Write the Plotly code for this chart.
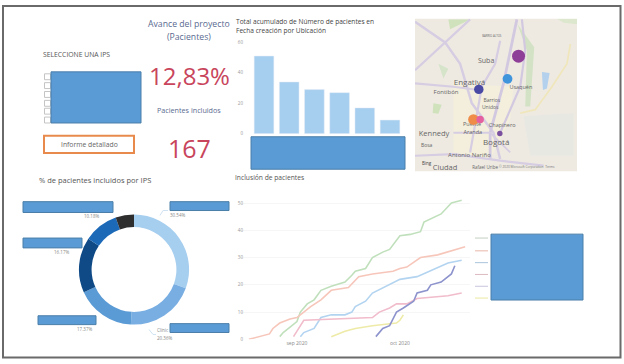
import plotly.graph_objects as go

W, H = 624, 364
FONT = "Open Sans"

# ---------- data ----------
ubicacion = ["IPS 1", "IPS 2", "IPS 3", "IPS 4", "IPS 5", "IPS 6"]
pacientes = [51, 34, 29, 27, 17, 9]
pie_colors = ["#a6ceef", "#78aee2", "#5b9bd5", "#0f4a86", "#1c69b8", "#2e2e2e"]
pct_labels = ["30.54%", "20.36%", "17.37%", "16.17%", "10.18%"]

bar_ticks = [0, 20, 40, 60]
line_ticks = [0, 10, 20, 30, 40, 50]

green_d = ["2020-08-27","2020-08-28","2020-08-30","2020-09-01","2020-09-02","2020-09-04","2020-09-06","2020-09-08","2020-09-11","2020-09-15","2020-09-17","2020-09-18","2020-09-21","2020-09-23","2020-09-26","2020-09-28","2020-10-01","2020-10-04","2020-10-07","2020-10-08","2020-10-13","2020-10-16","2020-10-19"]
green_v = [1,2.5,4.5,6.5,10,13,14.5,18,19.5,21,23.5,25,26,30,32,33,38,38.5,39.5,43,46,50,51]
salmon_d = ["2020-08-18","2020-08-21","2020-08-24","2020-08-25","2020-08-27","2020-08-30","2020-09-01","2020-09-03","2020-09-05","2020-09-08","2020-09-11","2020-09-16","2020-09-19","2020-09-23","2020-09-29","2020-10-01","2020-10-03","2020-10-07","2020-10-12","2020-10-20"]
salmon_v = [0,1,2,4,6,7.5,8,10,12,14.5,18,19,23,24,25,26,26.5,30,31,34]
blue_d = ["2020-09-02","2020-09-03","2020-09-06","2020-09-08","2020-09-11","2020-09-15","2020-09-17","2020-09-18","2020-09-21","2020-09-23","2020-10-01","2020-10-06","2020-10-15","2020-10-19"]
blue_v = [1,2.5,4,8,9,9,10,12,14,17,22,23,28,29]
pink_d = ["2020-08-31","2020-09-03","2020-09-23","2020-09-25","2020-09-28","2020-09-30","2020-10-03","2020-10-06","2020-10-15","2020-10-19"]
pink_v = [1,7,8,10,11.5,13,13,15,16,17]
yellow_d = ["2020-09-11","2020-09-15","2020-09-18","2020-09-23","2020-09-30","2020-10-01","2020-10-02"]
yellow_v = [1,3,4,5,6,7,9]
navy_d = ["2020-09-24","2020-09-26","2020-09-28","2020-09-30","2020-10-02","2020-10-05","2020-10-06","2020-10-09","2020-10-10","2020-10-13","2020-10-16","2020-10-17"]
navy_v = [1,4,5,10,11.5,14,17,18,20,21,24,27]
line_series = [
    (green_d, green_v, "#c0e0bc"), (salmon_d, salmon_v, "#f7c6ba"),
    (blue_d, blue_v, "#b3d4f0"), (pink_d, pink_v, "#f1bccb"),
    (yellow_d, yellow_v, "#eeeba8"), (navy_d, navy_v, "#8d93cc"),
]
legend_colors = ["#c3cfc3", "#e8b7a8", "#a9c4dc", "#ddb9c2", "#c6c4de", "#ebe89f"]

# map bubbles (map units, one per IPS, same order as pacientes)
bubble_x = [325, 190, 292, 206, 210, 269]
bubble_y = [147, 340, 216, 248, 340, 382]
bubble_c = ["#8e3f97", "#ef8c4a", "#3f94db", "#4a4aa5", "#e5609f", "#7a4fa0"]

map_labels = [
    ("Suba", 228, 161, 7), ("Engativá", 178, 229, 8), ("Fontibón", 108, 259, 6),
    ("Usaquén", 332, 244, 5.5), ("Barrios", 245, 283, 5), ("Unidos", 240, 304, 5),
    ("Puente", 186, 356, 5.5), ("Aranda", 188, 381, 5.5), ("Chapinero", 276, 359, 5.5),
    ("Kennedy", 72, 385, 7.5), ("Bosa", 50, 421, 5), ("Bogotá", 258, 410, 8),
    ("Antonio Nariño", 178, 449, 6), ("Ciudad", 105, 488, 7.5), ("Rafael Uribe", 225, 487, 4.5),
    ("BARRIO ALTOS", 245, 85, 2.8),
]
map_roads = [
    ([15,105,150,185,250,270], [42,105,170,290,380,460], "#d6cde2", 2.5),
    ([15,110,180], [190,100,35], "#d6cde2", 2.2),
    ([15,130,206], [230,240,250], "#d6cde2", 2.2),
    ([320,300,280,240,240], [35,130,230,380,460], "#d2c8e0", 2.8),
    ([335,345,330,270], [35,130,240,380], "#d2c8e0", 2.2),
    ([270,255,215,200,180], [100,170,240,330,440], "#d6cde2", 2.2),
    ([15,130,270,400], [450,445,465,480], "#d6cde2", 2.2),
    ([130,240,300], [380,380,440], "#d6cde2", 1.8),
    ([480,470,425,375,330], [110,170,240,310,320], "#f0e6bc", 1.8),
]
map_areas = [
    ([130,310,300,240,130,130], [230,240,340,460,440,340], "#f3efdc"),
    ([340,490,490,360], [330,320,450,450], "#e8e8e3"),
    ([115,180,120], [35,35,65], "#cfe2bc"),
    ([322,372,360,345,350], [50,120,300,300,130], "#d3e2c4"),
    ([85,115,100], [170,185,215], "#d6e4ca"),
    ([70,95,85,68], [290,295,322,320], "#cfe2bc"),
    ([395,418,410,398], [195,198,245,250], "#b3d0ec"),
    ([440,500,500,460], [33,33,50,45], "#dde7ce"),
]


def px(x):
    return x / W


def py(y):
    return 1 - y / H


def dom(a, b, size, flip=False):
    return [1 - b / size, 1 - a / size] if flip else [a / size, b / size]


fig = go.Figure()

# ---------- bar chart ----------
fig.add_trace(go.Bar(x=ubicacion, y=pacientes, marker_color="#a6ceef", width=0.78,
                     xaxis="x", yaxis="y", hoverinfo="skip"))
# ---------- line chart ----------
for d, v, c in line_series:
    fig.add_trace(go.Scatter(x=d, y=v, mode="lines", line=dict(color=c, width=1.6),
                             xaxis="x2", yaxis="y2", hoverinfo="skip"))
# ---------- donut ----------
fig.add_trace(go.Pie(values=pacientes, labels=ubicacion, hole=0.77, sort=False, direction="clockwise",
                     rotation=0, textinfo="none", hoverinfo="skip",
                     marker=dict(colors=pie_colors, line=dict(width=0)),
                     domain=dict(x=dom(78, 190, W), y=dom(215, 327, H, True))))
# ---------- map ----------
for xs, ys, c in map_areas:
    fig.add_trace(go.Scatter(x=xs, y=ys, mode="lines", fill="toself", fillcolor=c, line=dict(width=0),
                             xaxis="x3", yaxis="y3", hoverinfo="skip"))
for xs, ys, c, w in map_roads:
    fig.add_trace(go.Scatter(x=xs, y=ys, mode="lines", line=dict(color=c, width=w),
                             xaxis="x3", yaxis="y3", hoverinfo="skip"))
fig.add_trace(go.Scatter(x=[m[1] for m in map_labels], y=[m[2] for m in map_labels],
                         text=[m[0] for m in map_labels], mode="text",
                         textfont=dict(family=FONT, size=[m[3] for m in map_labels], color="#666666"),
                         xaxis="x3", yaxis="y3", hoverinfo="skip"))
fig.add_trace(go.Scatter(x=bubble_x, y=bubble_y, mode="markers",
                         marker=dict(size=pacientes, sizemode="area", sizeref=51 / 2 / 6.5 ** 2,
                                     color=bubble_c, opacity=1, line=dict(width=0)),
                         xaxis="x3", yaxis="y3", hoverinfo="skip"))

shapes = []


def rect(x0, y0, x1, y1, fill="#5b9bd5", line="#4a7ea8", lw=1):
    shapes.append(dict(type="rect", xref="paper", yref="paper", x0=px(x0), x1=px(x1), y0=py(y0), y1=py(y1),
                       fillcolor=fill, line=dict(color=line, width=lw), layer="above"))


def seg(x0, y0, x1, y1, color, lw=1):
    shapes.append(dict(type="line", xref="paper", yref="paper", x0=px(x0), x1=px(x1), y0=py(y0), y1=py(y1),
                       line=dict(color=color, width=lw), layer="above"))


# outer frame
rect(3, 3, 620.5, 360.5, fill="rgba(0,0,0,0)", line="#6a6a6a", lw=2)
# slicer
for y in [75, 84, 93, 102, 110, 119]:
    rect(44.5, y - 3, 50.5, y + 3, fill="#ffffff", line="#c4c4c4", lw=1)
rect(51, 70, 141, 122)
# button
rect(44, 135, 134, 152.5, fill="#ffffff", line="#e98a4d", lw=2)
# redaction blocks
rect(251, 136, 405, 169)
rect(23, 202, 113, 213)
rect(170, 202, 229, 211)
rect(23, 239, 82, 249)
rect(38, 318, 96, 327)
rect(170, 326, 229, 335)
rect(491, 235, 583, 302)
# legend keys
for y, c in zip([239, 252, 264, 276, 288, 300], legend_colors):
    seg(475, y, 488, y, c, 1)
# donut leader lines
seg(160, 216, 163, 211, "#cfe3f2", 1)
seg(163, 211, 168, 211, "#cfe3f2", 1)
seg(149, 332, 153, 337, "#cfe3f2", 1)
seg(153, 337, 156, 337, "#cfe3f2", 1)

annots = []


def text(s, x, y, size, color="#555555", anchor="center"):
    annots.append(dict(text=s, x=px(x), y=py(y), xref="paper", yref="paper", showarrow=False, xanchor=anchor,
                       yanchor="middle", font=dict(family=FONT, size=size, color=color)))


BLUEGRAY = "#5a6a90"
RED = "#c8455c"
text("Avance del proyecto", 189, 21, 8.7, BLUEGRAY)
text("(Pacientes)", 189, 35, 8.7, BLUEGRAY)
text("12,83%", 189, 74, 24, RED)
text("Pacientes incluidos", 189, 109, 7.2, BLUEGRAY)
text("167", 189, 147, 25, RED)
text("SELECCIONE UNA IPS", 76, 52, 6.8, "#555555")
text("Informe detallado", 89, 144, 6.8, "#666666")
text("% de pacientes incluidos por IPS", 95, 180, 7.5, "#555555")
text("Total acumulado de Número de pacientes en", 234, 19, 6.6, "#444444", "left")
text("Fecha creación por Ubicación", 234, 28, 6.6, "#444444", "left")
text("Inclusión de pacientes", 233, 177, 6.7, "#555555", "left")
text(pct_labels[4], 91, 217, 4.5, "#888888")
text(pct_labels[0], 177, 216, 4.5, "#888888")
text(pct_labels[3], 62, 253, 4.5, "#888888")
text(pct_labels[2], 85, 331, 4.5, "#888888")
text("Clínic", 163, 332, 4.5, "#888888")
text(pct_labels[1], 164, 341, 4.5, "#888888")
# map furniture
text("Bing", 427, 163, 4.5, "#444444")
text("© 2020 Microsoft Corporation  Terms", 527, 166, 3.2, "#777777")

axis_font = dict(family=FONT, size=4.5, color="#999999")
fig.update_layout(
    width=W, height=H, margin=dict(l=0, r=0, t=0, b=0), paper_bgcolor="white", plot_bgcolor="rgba(0,0,0,0)",
    showlegend=False, shapes=shapes, annotations=annots, bargap=0.22,
    xaxis=dict(domain=dom(251.4, 402.6, W), range=[-0.5, 5.5], visible=False, anchor="y"),
    yaxis=dict(domain=dom(40, 133, H, True), range=[0, 60], tickvals=bar_ticks, tickfont=axis_font,
               showgrid=False, zeroline=False, showline=False, ticks="", anchor="free", position=px(243), ticklen=0),
    xaxis2=dict(domain=dom(240, 470, W), type="date", range=["2020-08-15 10:00", "2020-10-21 10:00"],
                tickvals=["2020-09-01", "2020-10-01"], ticktext=["sep 2020", "oct 2020"],
                tickfont=dict(family=FONT, size=5, color="#888888"), showgrid=False, zeroline=False,
                showline=False, anchor="y2", ticks=""),
    yaxis2=dict(domain=dom(196, 342, H, True), range=[0, (342 - 196) / 2.772], tickvals=line_ticks,
                tickfont=axis_font, showgrid=True, gridcolor="#f6f6f6", gridwidth=1, zeroline=False,
                showline=False, anchor="free", position=px(243), ticks=""),
    xaxis3=dict(domain=dom(415, 577, W), range=[15, 500], visible=False, anchor="y3", fixedrange=True),
    yaxis3=dict(domain=dom(16, 171, H, True), range=[497, 33], visible=False, anchor="x3", fixedrange=True),
)
shapes.append(dict(type="rect", xref="paper", yref="paper", x0=px(415), x1=px(577), y0=py(16), y1=py(171),
                   fillcolor="#eeeae2", line=dict(width=0), layer="below"))
fig.update_layout(shapes=shapes)
fig.write_html("out.html", config=dict(displayModeBar=False),
               post_script="document.body.style.margin='0';document.body.style.overflow='hidden';")
